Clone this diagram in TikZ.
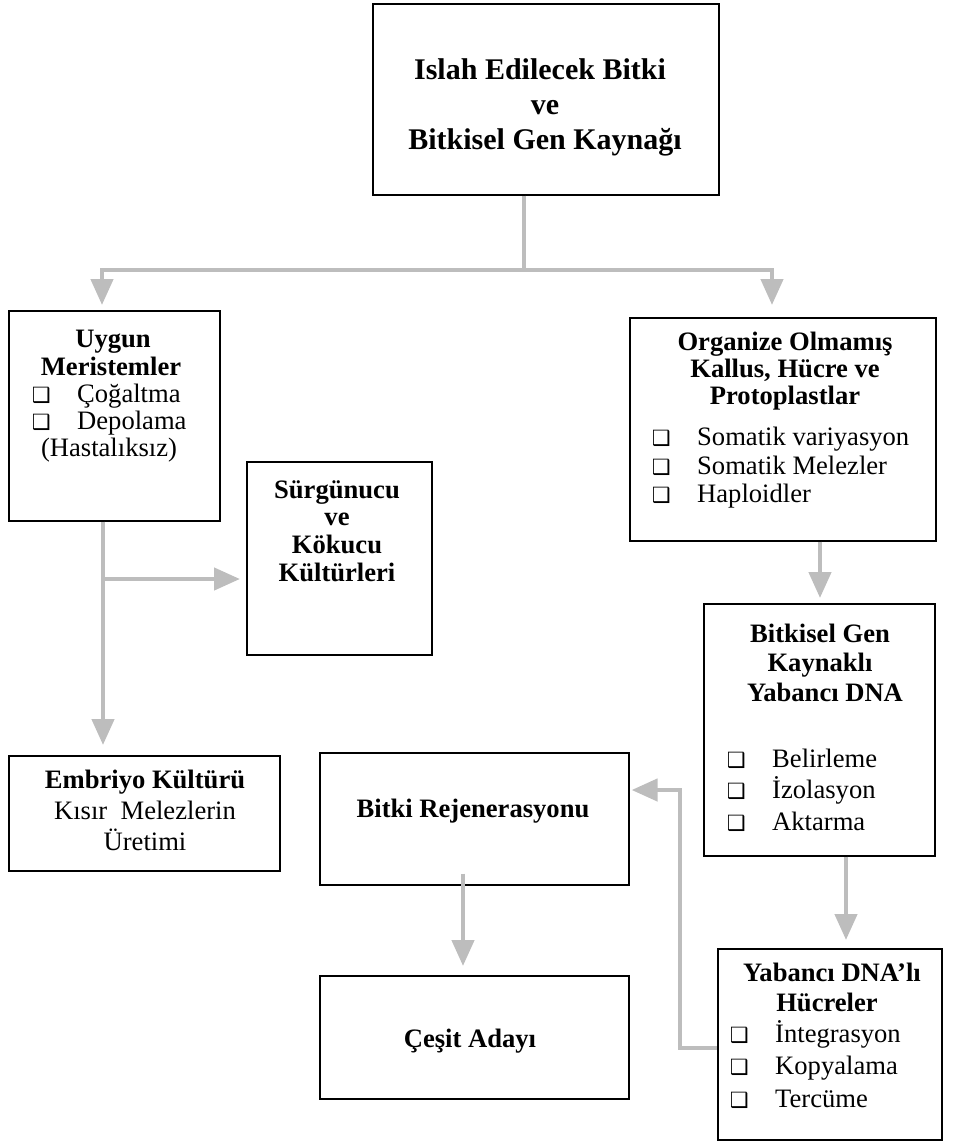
\documentclass[tikz,border=0pt]{standalone}
\usepackage{fontspec}
\setmainfont{Liberation Serif}
\newfontfamily\symfont{DejaVu Sans}
\usetikzlibrary{arrows.meta}
\definecolor{flowgray}{HTML}{BDBDBD}

% box: name, left, top, width, height
\newcommand{\boxat}[5]{\node[box, anchor=north west, minimum width=#4pt, minimum height=#5pt] (#1) at (#2,#3) {};}
% centred text line: name, x, baseline y, text
\newcommand{\ctr}[4]{\node[txt, anchor=base] (#1) at (#2,#3) {#4};}
% bulleted line: name, text x, baseline y, text
\newcommand{\itm}[4]{%
  \node[txt, anchor=base west] (#1) at (#2,#3) {#4};
  \node[bul, anchor=base east] (#1b) at ([xshift=-26pt]#1.base west) {❑};}

\begin{document}
\begin{tikzpicture}[x=1pt,y=-1pt,
  box/.style={draw=black, line width=1.6pt, inner sep=0pt},
  txt/.style={inner sep=0pt, font=\fontsize{26.6}{29}\selectfont},
  big/.style={font=\fontsize{30}{33}\selectfont},
  bul/.style={inner sep=0pt, font=\symfont\fontsize{21}{21}\selectfont},
  flowline/.style={draw=flowgray, line width=4.5pt},
  flow/.style={flowline, -{Triangle[width=22pt,length=26pt]}}]
\useasboundingbox (0,0) rectangle (953,1141);

% boxes
\boxat{top}{372}{3}{346}{191}
\boxat{mer}{8}{310}{211}{210}
\boxat{org}{629}{317}{306}{223}
\boxat{sur}{246}{461}{185}{193}
\boxat{gen}{703}{603}{231}{252}
\boxat{emb}{8}{755}{271}{115}
\boxat{rej}{319}{752}{309}{132}
\boxat{ces}{319}{975}{309}{123}
\boxat{yab}{717}{948}{224}{191}

% texts
\node[txt, big, anchor=base] (ta) at (540,79) {\textbf{Islah Edilecek Bitki}};
\node[txt, big, anchor=base] (tb) at (545,114) {\textbf{ve}};
\node[txt, big, anchor=base] (tc) at (545,149) {\textbf{Bitkisel Gen Kaynağı}};

\ctr{ma}{113}{347}{\textbf{Uygun}}
\ctr{mb}{111}{375}{\textbf{Meristemler}}
\itm{mc}{77}{402}{Çoğaltma}
\itm{md}{77}{429}{Depolama}
\ctr{me}{109}{456}{(Hastalıksız)}

\ctr{oa}{785}{350}{\textbf{Organize Olmamış}}
\ctr{ob}{785}{377}{\textbf{Kallus, Hücre ve}}
\ctr{oc}{785}{404}{\textbf{Protoplastlar}}
\itm{od}{697}{445}{Somatik variyasyon}
\itm{oe}{697}{474}{Somatik Melezler}
\itm{of}{697}{502}{Haploidler}

\ctr{sa}{337}{498}{\textbf{Sürgünucu}}
\ctr{sb}{337}{525}{\textbf{ve}}
\ctr{sc}{337}{553}{\textbf{Kökucu}}
\ctr{sd}{337}{581}{\textbf{Kültürleri}}

\ctr{ga}{820}{642}{\textbf{Bitkisel Gen}}
\ctr{gb}{820}{671}{\textbf{Kaynaklı}}
\ctr{gc}{825}{701}{\textbf{Yabancı DNA}}
\itm{gd}{772}{767}{Belirleme}
\itm{ge}{772}{798}{İzolasyon}
\itm{gf}{772}{830}{Aktarma}

\ctr{ea}{145}{788}{\textbf{Embriyo Kültürü}}
\ctr{eb}{145}{819}{Kısır\ \ Melezlerin}
\ctr{ec}{145}{850}{Üretimi}

\ctr{ra}{473}{817}{\textbf{Bitki Rejenerasyonu}}
\ctr{ca}{470}{1047}{\textbf{Çeşit Adayı}}

\ctr{ya}{832}{981}{\textbf{Yabancı DNA’lı}}
\ctr{yb}{827}{1011}{\textbf{Hücreler}}
\itm{yc}{775}{1042}{İntegrasyon}
\itm{yd}{775}{1074}{Kopyalama}
\itm{ye}{775}{1107}{Tercüme}

% connector routing points
\coordinate (split) at (524,270);
\coordinate (lft) at (102,270);
\coordinate (rgt) at (772,270);
\coordinate (mcol) at (103,579);
\coordinate (ocol) at (820,0);
\coordinate (gcol) at (846,0);
\coordinate (bend) at (680,1048);
\coordinate (ry) at (0,790);
\coordinate (rcol) at (463,0);

% connectors
\draw[flowline] (top.south -| split) -- (split);
\draw[flow] (split) -| ([yshift=5pt]mer.north -| lft);
\draw[flow] (split) -| ([yshift=12pt]org.north -| rgt);
\draw[flow] (mer.south -| mcol) -- ([yshift=10pt]emb.north -| mcol);
\draw[flow] (mcol) -- ([xshift=-6pt]sur.west |- mcol);
\draw[flow] (org.south -| ocol) -- ([yshift=5pt]gen.north -| ocol);
\draw[flow] (gen.south -| gcol) -- ([yshift=8pt]yab.north -| gcol);
\draw[flow] (yab.west |- bend) -- (bend) |- ([xshift=2pt]rej.east |- ry);
\draw[flow] ([yshift=12pt]rej.south -| rcol) -- ([yshift=9pt]ces.north -| rcol);
\end{tikzpicture}
\end{document}
